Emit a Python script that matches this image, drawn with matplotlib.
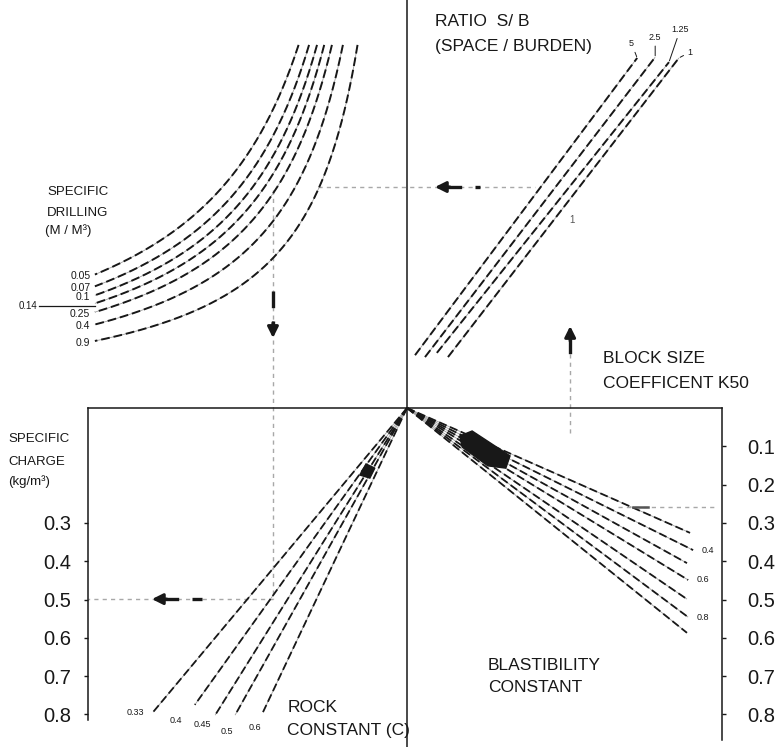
import numpy as np
import matplotlib
matplotlib.use("Agg")
import matplotlib.pyplot as plt
from matplotlib.patches import Polygon

plt.rcParams['font.family'] = ['Liberation Sans', 'DejaVu Sans']

# ---------------- data ----------------
# Specific drilling (m/m3): hyperbolae X*Y = K in the upper-left quadrant
drilling_labels = ["0.05", "0.07", "0.1", "0.14", "0.25", "0.4", "0.9"]
drilling_k = [0.2931, 0.2672, 0.2475, 0.2297, 0.2106, 0.1834, 0.1472]

# Spacing / burden ratio lines in the upper-right quadrant
ratio_labels = ["5", "2.5", "1.25", "1"]
ratio_x0 = [0.021, 0.047, 0.078, 0.107]
ratio_h0 = [0.138, 0.133, 0.144, 0.133]
ratio_x1 = [0.601, 0.648, 0.684, 0.710]
ratio_h1 = [0.914, 0.916, 0.903, 0.914]

# Rock constant C: rays of the lower-left quadrant
rock_c = [0.33, 0.4, 0.45, 0.5, 0.6]
rock_end_x = [0.663, 0.554, 0.501, 0.449, 0.376]
rock_end_q = [0.794, 0.775, 0.802, 0.802, 0.794]

# Blastibility constant: rays of the lower-right quadrant
blast_vals = [0.3, 0.4, 0.5, 0.6, 0.7, 0.8, 0.9]
blast_end_x = [0.739, 0.747, 0.731, 0.734, 0.731, 0.734, 0.731]
blast_end_q = [0.326, 0.371, 0.405, 0.449, 0.499, 0.546, 0.587]
blast_labeled = ["0.4", "0.6", "0.8"]

# Specific charge scales
charge_ticks_left = [0.3, 0.4, 0.5, 0.6, 0.7, 0.8]
charge_ticks_right = [0.1, 0.2, 0.3, 0.4, 0.5, 0.6, 0.7, 0.8]

# ---------------- figure ----------------
fig = plt.figure(figsize=(7.8, 7.47), dpi=100)
ax = fig.add_axes([0, 0, 1, 1])
ax.set_xlim(-1.0627, 0.9739)
ax.set_ylim(0.8851, -1.0653)
ax.axis("off")

INK = "#181818"


def scan_line(x, y, lw=1.4):
    ax.plot(x, y, color="#a0a0a0", lw=0.6, zorder=2, solid_capstyle="butt")
    ax.plot(x, y, color=INK, lw=lw, dashes=(4.5, 2.0), zorder=3)


def guide(x, y, dark=False):
    if dark:
        ax.plot(x, y, color=INK, lw=2.4, dashes=(5, 4), zorder=4)
    else:
        ax.plot(x, y, color="#a8a8a8", lw=1.0, dashes=(3, 3), zorder=2)


def arrow_head(tip, tail):
    ax.annotate("", xy=tip, xytext=tail,
                arrowprops=dict(arrowstyle="-|>", mutation_scale=16,
                                color=INK, lw=2.2, shrinkA=0, shrinkB=0),
                zorder=5)


# central vertical divider
ax.plot([0, 0], [-1.0653, 0.8851], color=INK, lw=1.1, zorder=3)

# ---- upper-left: specific drilling curves ----
Y_TOP, X_LEFT, ASYM = 0.948, 0.841, 0.0261
for lab, k in zip(drilling_labels, drilling_k):
    X = np.linspace(k / Y_TOP, X_LEFT, 300)
    xs, ys = ASYM - X, -k / X
    scan_line(xs, ys)
    xe, ye = xs[-1], ys[-1]
    if lab == "0.14":
        ax.plot([xe, xe - 0.145], [ye + 0.008, ye + 0.008], color=INK, lw=0.9, zorder=3)
        ax.text(xe - 0.15, ye + 0.008, lab, fontsize=7, ha="right", va="center", color=INK)
    else:
        ax.text(xe - 0.012, ye + 0.004, lab, fontsize=7.5, ha="right", va="center", color=INK)

ax.text(-0.940, -0.564, "SPECIFIC", fontsize=9.5, ha="left", va="center", color=INK)
ax.text(-0.940, -0.509, "DRILLING", fontsize=9.5, ha="left", va="center", color=INK)
ax.text(-0.945, -0.462, "(M / M³)", fontsize=9.5, ha="left", va="center", color=INK)

# ---- upper-right: S/B ratio lines ----
ratio_offsets = [(-4, 7), (0, 11), (8, 20), (8, 1)]
for lab, x0, h0, x1, h1, off in zip(ratio_labels, ratio_x0, ratio_h0,
                                    ratio_x1, ratio_h1, ratio_offsets):
    scan_line([x0, x1], [-h0, -h1])
    ax.annotate(lab, xy=(x1, -h1), xytext=off, textcoords="offset points",
                fontsize=6.5, ha="center", va="bottom", color=INK,
                arrowprops=dict(arrowstyle="-", lw=0.7, color=INK,
                                shrinkA=1, shrinkB=1))
ax.text(0.431, -0.491, "1", fontsize=7, ha="center", va="center", color="#555")

ax.text(0.073, -1.008, "RATIO  S/ B", fontsize=12.5, ha="left", va="center", color=INK)
ax.text(0.073, -0.943, "(SPACE / BURDEN)", fontsize=12.5, ha="left", va="center", color=INK)
ax.text(0.512, -0.128, "BLOCK SIZE", fontsize=12.5, ha="left", va="center", color=INK)
ax.text(0.512, -0.065, "COEFFICENT K50", fontsize=12.5, ha="left", va="center", color=INK)

# ---- lower-left: rock constant rays ----
rock_offsets = [(-13, 0), (-14, -11), (-9, -7), (-6, -12), (-6, -11)]
for c, ex, eq, off in zip(rock_c, rock_end_x, rock_end_q, rock_offsets):
    scan_line([0, -ex], [0, eq], lw=1.3)
    ax.annotate(f"{c:g}", xy=(-ex, eq), xytext=off, textcoords="offset points",
                fontsize=6.5, ha="center", va="center", color=INK)
ax.add_patch(Polygon([(-0.123, 0.175), (-0.107, 0.146), (-0.084, 0.157),
                      (-0.097, 0.183)], closed=True, color=INK, zorder=5))

ax.text(-0.313, 0.783, "ROCK", fontsize=12.5, ha="left", va="center", color=INK)
ax.text(-0.313, 0.841, "CONSTANT (C)", fontsize=12.5, ha="left", va="center", color=INK)

# ---- lower-right: blastibility rays ----
for v, ex, eq in zip(blast_vals, blast_end_x, blast_end_q):
    scan_line([0, ex], [0, eq], lw=1.3)
    if f"{v:g}" in blast_labeled:
        ax.annotate(f"{v:g}", xy=(ex, eq), xytext=(6, 0), textcoords="offset points",
                    fontsize=6.5, ha="left", va="center", color=INK)
ax.add_patch(Polygon([(0.138, 0.073), (0.170, 0.060), (0.269, 0.125),
                      (0.258, 0.157), (0.211, 0.151), (0.144, 0.102)],
                     closed=True, color=INK, zorder=5))

ax.text(0.211, 0.671, "BLASTIBILITY", fontsize=12.5, ha="left", va="center", color=INK)
ax.text(0.211, 0.731, "CONSTANT", fontsize=12.5, ha="left", va="center", color=INK)

# ---- guide paths with arrows ----
# horizontal: S/B lines -> drilling curves
guide([-0.232, 0.334], [-0.577, -0.577])
guide([0.100, 0.190], [-0.577, -0.577], dark=True)
arrow_head((0.073, -0.577), (0.112, -0.577))
# vertical: drilling curves -> rock rays
guide([-0.350, -0.350], [-0.569, 0.499])
guide([-0.350, -0.350], [-0.305, -0.215], dark=True)
arrow_head((-0.350, -0.183), (-0.350, -0.222))
# horizontal: rock rays -> specific charge axis
guide([-0.350, -0.833], [0.499, 0.499])
guide([-0.640, -0.535], [0.499, 0.499], dark=True)
arrow_head((-0.666, 0.499), (-0.627, 0.499))
# vertical: up to K50
guide([0.426, 0.426], [0.065, -0.20])
guide([0.426, 0.426], [-0.185, -0.110], dark=True)
arrow_head((0.426, -0.214), (0.426, -0.175))
# horizontal at the right scale
guide([0.551, 0.804], [0.258, 0.258])
ax.plot([0.589, 0.628], [0.258, 0.258], color="#555", lw=1.8, zorder=4)

# ---- specific charge axes ----
axL = fig.add_axes([88 / 780, 0, 319 / 780, 339 / 747], facecolor="none")
axR = fig.add_axes([407 / 780, 0, 315 / 780, 339 / 747], facecolor="none")
for a in (axL, axR):
    a.set_ylim(0.8851, 0)
    a.set_xlim(0, 1)
    a.set_xticks([])
    for s in a.spines.values():
        s.set_color(INK)
        s.set_linewidth(1.1)
    a.spines["bottom"].set_visible(False)

axL.spines["right"].set_visible(False)
axL.spines["left"].set_bounds(0, 0.815)
axL.set_yticks(charge_ticks_left)
axL.set_yticklabels([f"{t:.1f}" for t in charge_ticks_left])
axL.tick_params(axis="y", direction="out", length=3, width=1, pad=9,
                labelsize=14.5, colors=INK)

axR.spines["left"].set_visible(False)
axR.spines["right"].set_bounds(0, 0.867)
axR.yaxis.tick_right()
axR.set_yticks(charge_ticks_right)
axR.set_yticklabels([f"{t:.1f}" for t in charge_ticks_right])
axR.tick_params(axis="y", direction="out", length=3, width=1, pad=15,
                labelsize=14.5, colors=INK)

ax.text(-1.042, 0.081, "SPECIFIC", fontsize=9.5, ha="left", va="center", color=INK)
ax.text(-1.042, 0.141, "CHARGE", fontsize=9.5, ha="left", va="center", color=INK)
ax.text(-1.042, 0.191, "(kg/m³)", fontsize=9.5, ha="left", va="center", color=INK)

fig.savefig("out.png", dpi=100)
